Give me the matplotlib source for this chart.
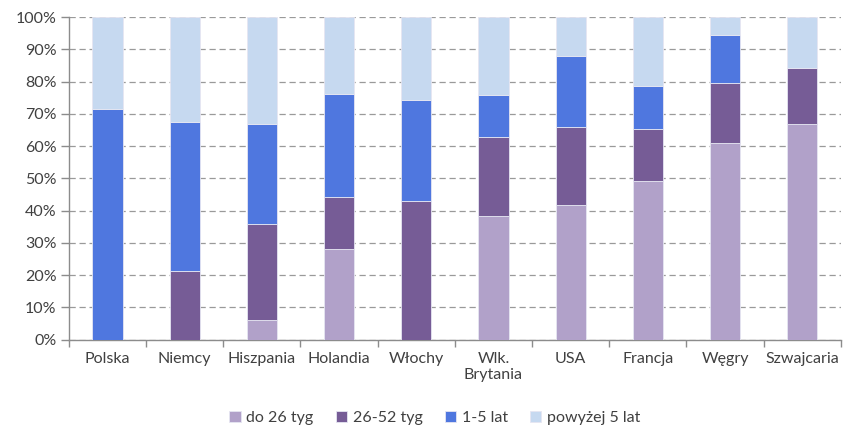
import matplotlib.pyplot as plt
import numpy as np

countries = ["Polska", "Niemcy", "Hiszpania", "Holandia", "Włochy",
             "Wlk.\nBrytania", "USA", "Francja", "Węgry", "Szwajcaria"]

# shares of each duration group, in %
do_26 = [0.0, 0.0, 6.2, 28.2, 0.0, 38.4, 41.7, 49.3, 61.0, 66.9]
od_26_52 = [0.0, 21.4, 29.8, 15.9, 43.0, 24.4, 24.3, 16.1, 18.5, 17.3]
od_1_5 = [71.5, 46.1, 31.0, 32.1, 31.4, 13.1, 22.0, 13.4, 15.1, 0.0]
ponad_5 = [28.5, 32.5, 33.0, 23.8, 25.6, 24.1, 12.0, 21.2, 5.4, 15.8]

series = [
    ("do 26 tyg", do_26, "#b1a1c9"),
    ("26-52 tyg", od_26_52, "#765c96"),
    ("1-5 lat", od_1_5, "#4f77df"),
    ("powyżej 5 lat", ponad_5, "#c6d9f0"),
]

plt.rcParams['font.family'] = ['Lato', 'DejaVu Sans']

fig = plt.figure(figsize=(8.51, 4.3), dpi=100)
ax = fig.add_axes([0.081, 0.21, 0.907, 0.75])

x = np.arange(len(countries))
bottom = np.zeros(len(countries))
for name, vals, col in series:
    vals = np.array(vals)
    ax.bar(x, vals, 0.39, bottom=bottom, color=col, label=name,
           edgecolor="#e6e6f2", linewidth=0.6, zorder=3)
    bottom += vals

ax.set_xlim(-0.5, len(countries) - 0.5)
ax.set_ylim(0, 100)
ax.set_yticks(np.arange(0, 101, 10))
ax.set_yticklabels([f"{v}%" for v in range(0, 101, 10)])
ax.yaxis.grid(True, color="#9a9a9a", linestyle=(0, (5, 3)), linewidth=0.9, zorder=0)

ax.set_xticks(x)
ax.set_xticklabels(countries)
ax.set_xticks(np.arange(-0.5, len(countries)), minor=True)
ax.tick_params(axis="x", which="major", length=0, pad=9)
ax.tick_params(axis="x", which="minor", length=5, color="#8c8c8c", width=1)
ax.tick_params(axis="y", length=6, color="#8c8c8c", width=1, pad=3)
ax.tick_params(labelsize=11.5, labelcolor="#404040")

for s in ["top", "right"]:
    ax.spines[s].set_visible(False)
for s in ["left", "bottom"]:
    ax.spines[s].set_color("#8c8c8c")
    ax.spines[s].set_linewidth(1)

ax.legend(loc="center", bbox_to_anchor=(0.474, -0.243), ncol=4,
          frameon=False, fontsize=11.5, handlelength=0.7, handleheight=0.7,
          handletextpad=0.35, columnspacing=1.4, labelcolor="#404040")

fig.savefig("out.png", dpi=100)
